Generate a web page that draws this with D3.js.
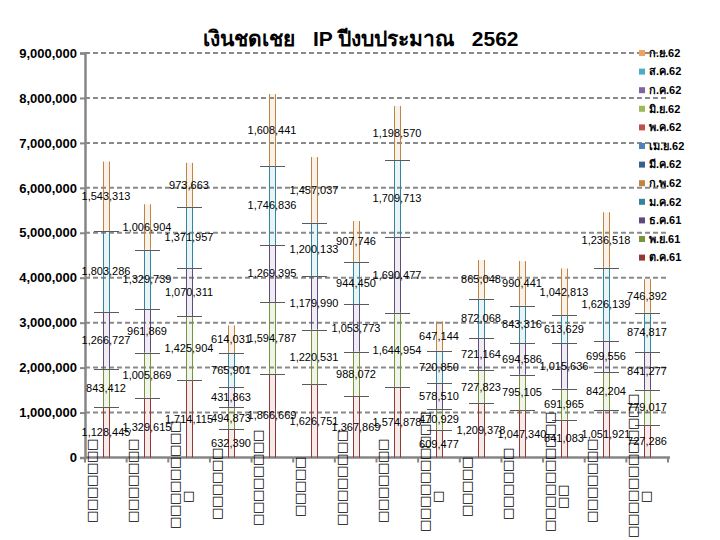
<!DOCTYPE html>
<html>
<head>
<meta charset="utf-8">
<script src="https://cdn.jsdelivr.net/npm/d3@7"></script>
<style>
  body { margin: 0; background: #fff; }
  svg { display: block; }
  .ylab { font: bold 13px "Liberation Sans", Arial, sans-serif; }
  .dlab { font: 11px "Liberation Sans", Arial, sans-serif; }
</style>
</head>
<body>
<svg width="720" height="540"></svg>
<script>
// hospital names did not render in the source, only boxes; "\n" = wrapped column
var categories = [
  "□□□□□□□", "□□□□□□□", "□□□□□□□□□\n□", "□□□□□□", "□□□□□□□□",
  "□□□□□", "□□□□□□□□", "□□□□□□□", "□□□□□□□□□□\n□", "□□□□□",
  "□□□□□□", "□□□□□□□□□□\n□□", "□□□□□□□", "□□□□□□□□□□□□\n□"
];

var monthNames = ["ต.ค.61", "พ.ย.61", "ธ.ค.61", "ม.ค.62", "ก.พ.62", "มี.ค.62",
                  "เม.ย.62", "พ.ค.62", "มิ.ย.62", "ก.ค.62", "ส.ค.62", "ก.ย.62"];
var monthColors = ["#953735", "#77933c", "#604a7b", "#31859c", "#c0843f", "#376092",
                   "#4f81bd", "#c0504d", "#9bbb59", "#8064a2", "#4bacc6", "#f0a260"];

var oct61 = [1128445, 1329615, 1714115, 632390, 1866669, 1626751, 1367869, 1574878, 609477, 1209378, 1047340, 841083, 1051921, 727286];
var nov61 = [843412, 1005869, 1425904, 494873, 1594787, 1220531, 988072, 1644954, 470929, 727823, 795105, 691965, 842204, 779017];
var dec61 = [1266727, 961869, 1070311, 431863, 1269395, 1179990, 1053773, 1690477, 578510, 721164, 694586, 1015636, 699556, 841277];
var jan62 = [1803286, 1329739, 1371957, 765901, 1746836, 1200133, 944450, 1709713, 720850, 872068, 843316, 613629, 1626139, 874817];
var feb62 = [1543313, 1006904, 973663, 614031, 1608441, 1457037, 907746, 1198570, 647144, 865048, 990441, 1042813, 1236518, 746392];
var seriesValues = [oct61, nov61, dec61, jan62, feb62];

var yTicks = [0, 1000000, 2000000, 3000000, 4000000, 5000000, 6000000, 7000000, 8000000, 9000000];

(function() {
  var svg = d3.select("svg");
  var left = 85, right = 668, plotTop = 53, bottom = 457.5;

  var x = d3.scaleBand().domain(d3.range(categories.length)).range([left, right]);
  var y = d3.scaleLinear().domain([0, 9000000]).range([bottom, plotTop]);
  var fmt = d3.format(",");
  var cx = i => Math.round(x(i) + x.bandwidth() / 2);

  // title
  svg.append("text")
    .attr("x", 361).attr("y", 46)
    .attr("text-anchor", "middle")
    .style("white-space", "pre")
    .style("font", "bold 21px 'Liberation Sans', 'Noto Sans', sans-serif")
    .text("เงินชดเชย   IP ปีงบประมาณ   2562");

  // grid
  svg.append("g").selectAll("line")
    .data(yTicks.slice(1))
    .enter().append("line")
    .attr("x1", left).attr("x2", right)
    .attr("y1", d => y(d)).attr("y2", d => y(d))
    .attr("stroke", "#8a8a8a").attr("stroke-width", 2)
    .attr("stroke-dasharray", "5,3");

  // axes
  var yAxis = svg.append("g")
    .attr("transform", "translate(" + left + ",0)")
    .call(d3.axisLeft(y).tickValues(yTicks).tickFormat(fmt).tickSize(5).tickPadding(3));
  yAxis.selectAll("text").attr("class", "ylab").attr("fill", "#000");
  yAxis.select(".domain").attr("stroke", "#868686").attr("stroke-width", 2.5);
  yAxis.selectAll(".tick line").attr("stroke", "#868686").attr("stroke-width", 2);

  var xb = svg.append("g");
  xb.append("line")
    .attr("x1", left).attr("x2", right + 2)
    .attr("y1", bottom).attr("y2", bottom)
    .attr("stroke", "#868686").attr("stroke-width", 2.5);
  xb.selectAll("line.t")
    .data(d3.range(categories.length + 1))
    .enter().append("line")
    .attr("class", "t")
    .attr("x1", d => left + d * x.step()).attr("x2", d => left + d * x.step())
    .attr("y1", bottom).attr("y2", bottom + 5)
    .attr("stroke", "#868686").attr("stroke-width", 2);

  // stacked bars: faint fill with coloured side lines only
  var rows = categories.map(function(c, i) {
    var r = { i: i };
    seriesValues.forEach(function(s, k) { r[k] = s[i]; });
    return r;
  });
  var stack = d3.stack().keys(d3.range(seriesValues.length))(rows);

  var bw = 6;
  var layers = svg.append("g").selectAll("g")
    .data(stack)
    .enter().append("g");

  var segs = layers.selectAll("g.seg")
    .data((d, k) => d.map(p => ({ p: p, k: k })))
    .enter().append("g").attr("class", "seg");
  segs.append("rect")
    .attr("x", d => cx(d.p.data.i) - bw / 2)
    .attr("width", bw)
    .attr("y", d => y(d.p[1]))
    .attr("height", d => y(d.p[0]) - y(d.p[1]))
    .attr("fill", d => monthColors[d.k]).attr("fill-opacity", 0.1);
  [-bw / 2, bw / 2].forEach(function(off) {
    segs.append("line")
      .attr("x1", d => cx(d.p.data.i) + off + 0.5).attr("x2", d => cx(d.p.data.i) + off + 0.5)
      .attr("y1", d => y(d.p[1])).attr("y2", d => y(d.p[0]))
      .attr("stroke", d => monthColors[d.k]).attr("stroke-width", 1);
  });

  // boundary ticks
  var nSeries = seriesValues.length;
  layers.selectAll("line.tk")
    .data((d, k) => k < nSeries - 1 ? d : [])
    .enter().append("line")
    .attr("class", "tk")
    .attr("x1", d => cx(d.data.i) - 12)
    .attr("x2", d => cx(d.data.i) + 13)
    .attr("y1", d => Math.round(y(d[1])) + 0.5).attr("y2", d => Math.round(y(d[1])) + 0.5)
    .attr("stroke", "#5a5a5a").attr("stroke-width", 1);

  // value labels
  layers.selectAll("text")
    .data(d => d)
    .enter().append("text")
    .attr("class", "dlab")
    .attr("x", d => cx(d.data.i))
    .attr("y", d => y((d[0] + d[1]) / 2))
    .attr("dy", "0.35em")
    .attr("text-anchor", "middle")
    .text(d => fmt(d[1] - d[0]));

  // category labels, stacked one character per line
  var catG = svg.append("g").selectAll("g")
    .data(categories)
    .enter().append("g");
  catG.each(function(label, i) {
    var cols = label.split("\n");
    var n = cols[0].length;
    var topY = 501 - 9 * n;
    var g = d3.select(this);
    cols.forEach(function(col, c) {
      var cy = c === 0 ? topY : 496 - col.length * 6;
      col.split("").forEach(function(ch, j) {
        g.append("text")
          .attr("x", cx(i) - 13 + c * 13)
          .attr("y", cy + j * 12 + 10)
          .attr("text-anchor", "middle")
          .style("font", "13px 'DejaVu Sans', sans-serif")
          .text(ch);
      });
    });
  });

  // legend, latest month on top
  var legend = svg.append("g").selectAll("g")
    .data(d3.range(monthNames.length).reverse())
    .enter().append("g")
    .attr("transform", (d, j) => "translate(639," + (53 + j * 18.6) + ")");
  legend.append("rect")
    .attr("x", 0).attr("y", -3).attr("width", 6).attr("height", 6)
    .attr("fill", d => monthColors[d]);
  legend.append("text")
    .attr("x", 10).attr("dy", "0.35em")
    .style("font", "bold 11px 'Liberation Sans', sans-serif")
    .text(d => monthNames[d]);
})();
</script>
</body>
</html>
